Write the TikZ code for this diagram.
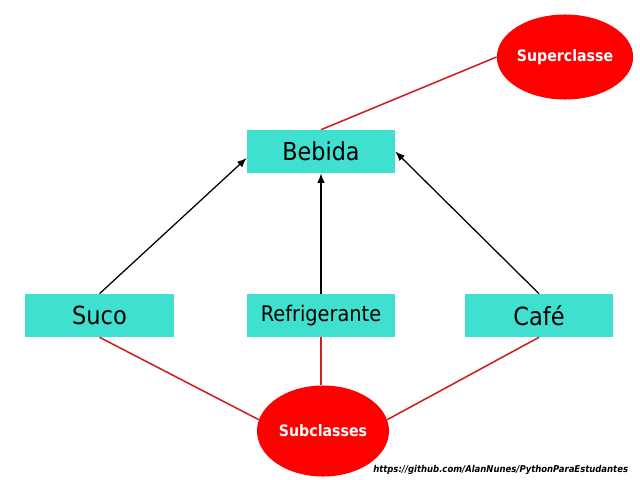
\documentclass[tikz,border=0pt]{standalone}
\usepackage{fontspec}
\setmainfont{DejaVu Sans Condensed}
\usetikzlibrary{shapes.geometric,arrows.meta}
\definecolor{boxturq}{RGB}{64, 224, 208}
\definecolor{ovalred}{RGB}{255, 0, 0}
\definecolor{linered}{RGB}{204, 32, 32}

\begin{document}
\begin{tikzpicture}[x = 0.025cm, y = -0.025cm,
	classbox/.style = {fill=boxturq, minimum width=3.7cm, minimum height=1.075cm, inner sep=0pt},
	tagoval/.style = {ellipse, fill=ovalred, text=white, inner sep=0pt, font=\bfseries\fontsize{11.2}{13}\selectfont},
	arrow/.style = {line width=0.9pt, -{Latex[length=2.4mm, width=1.9mm]}},
	link/.style = {line width=1.1pt, linered}]
	\useasboundingbox (0,0) rectangle (640,480);
	\node[classbox, font=\fontsize{17.6}{20}\selectfont] (bebida) at (321,151.5) {Bebida};
	\node[classbox, minimum width=3.725cm, font=\fontsize{17.8}{20}\selectfont] (suco) at (99.5,315.5) {Suco};
	\node[classbox, font=\fontsize{15.3}{17}\selectfont] (refri) at (321,315.5) {Refrigerante};
	\node[classbox, font=\fontsize{17.8}{20}\selectfont] (cafe) at (539,315.5) {Café};
	\node[tagoval, minimum width=3.35cm, minimum height=2.125cm] (super) at (565,57) {Superclasse};
	\node[tagoval, minimum width=3.3cm, minimum height=2.275cm] (sub) at (323,431) {Subclasses};
	\draw[link] (bebida.north) -- (super.west);
	\draw[link] (suco.south) -- (sub.170);
	\draw[link] (refri.south) -- (refri.south |- sub.north);
	\draw[link] (cafe.south) -- (sub.10);
	\draw[arrow] (suco.north) -- (bebida.185);
	\draw[arrow] (refri.north) -- (bebida.south);
	\draw[arrow] (cafe.north) -- (bebida.east);
	\node[anchor=east, font=\bfseries\itshape\fontsize{6.7}{8}\selectfont] (url) at (633,470) {https://github.com/AlanNunes/PythonParaEstudantes};
\end{tikzpicture}
\end{document}
